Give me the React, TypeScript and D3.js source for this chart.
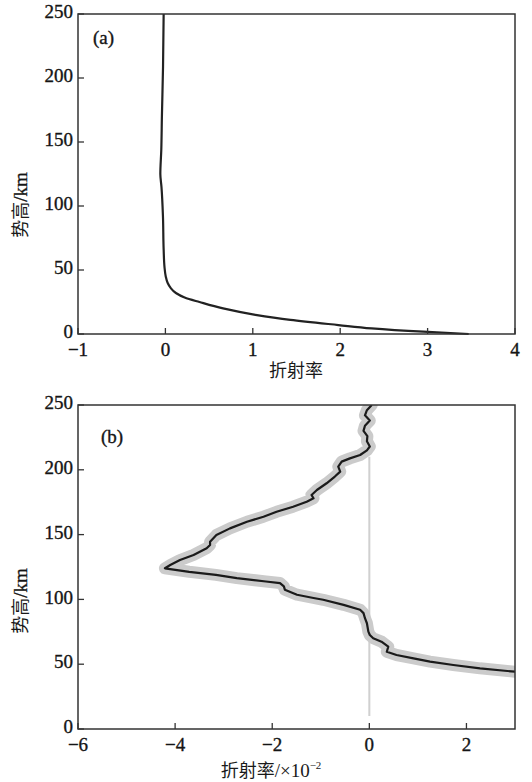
import React from 'react';
import {scaleLinear, line, curveMonotoneY, curveLinear} from 'd3';

// panel (a): refractivity over the full height range
const aHeight = [250, 209, 170, 144, 125, 115, 92, 66, 52, 45, 40, 36, 32, 28.5, 25, 20, 15, 11, 7, 4.4, 1.8, 0];
const aValue = [-0.02, -0.027, -0.04, -0.047, -0.058, -0.045, -0.028, -0.02, -0.01, 0.004, 0.025, 0.06, 0.12, 0.22, 0.39, 0.66, 1.03, 1.43, 1.98, 2.36, 2.95, 3.47];

// panel (b): zoomed view, values in units of 1e-2
const bHeight = [250, 246, 242, 238, 234, 230, 226, 222, 218, 215, 211.4, 208.8, 206.3, 202.5, 198.6, 194.8, 189.6, 184.4, 180.6, 178, 175.4, 171.5, 167.6, 163.8, 159.9, 154.8, 149.7, 144.5, 142, 139.5, 134.3, 130.4, 126.5, 124, 121.3, 118.9, 116.4, 113.8, 112.6, 110, 107.5, 103.6, 101.1, 99.7, 95.8, 92, 89.4, 85.5, 81.6, 75.1, 72.5, 70, 67.4, 63.5, 59.6, 57.1, 54.5, 52, 49.4, 46.8, 44.2, 42];
const bValue = [0.05, -0.05, -0.09, 0.01, -0.09, -0.12, -0.04, -0.05, 0.01, -0.05, -0.19, -0.40, -0.57, -0.64, -0.60, -0.71, -0.88, -1.08, -1.19, -1.15, -1.29, -1.57, -1.91, -2.18, -2.52, -2.87, -3.15, -3.28, -3.28, -3.35, -3.62, -3.90, -4.10, -4.21, -3.71, -3.16, -2.73, -2.13, -1.84, -1.76, -1.74, -1.49, -1.15, -0.95, -0.53, -0.19, -0.12, -0.09, -0.05, -0.02, 0.01, 0.08, 0.25, 0.39, 0.36, 0.56, 0.91, 1.25, 1.73, 2.28, 3.0, 3.8];

// zero reference line in (b)
const bZeroLine = [10, 210];

const yTicks = [0, 50, 100, 150, 200, 250];
const aXTicks = [-1, 0, 1, 2, 3, 4];
const bXTicks = [-6, -4, -2, 0, 2];

const width = 532;
const height = 782;
const left = 78;
const right = 515;

const serif = '"Liberation Serif", "Times New Roman", serif';
const cjk = '"Noto Sans CJK SC", sans-serif';
const fmt = (v: number) => (v < 0 ? `\u2212${Math.abs(v)}` : `${v}`);

// regular serif with a faint outline, to get the heavier look of the scan
const numStyle = {fontFamily: serif, fontSize: 19, fill: '#151515', stroke: '#151515', strokeWidth: 0.35};

type AxisProps = {
  x: any;
  y: any;
  xTicks: number[];
  top: number;
  bottom: number;
};

function Frame({x, y, xTicks, top, bottom}: AxisProps) {
  return (
    <g>
      <rect x={left} y={top} width={right - left} height={bottom - top} fill="none" stroke="#333" strokeWidth={1.5} />
      {xTicks.map((t) => (
        <g key={t} transform={`translate(${x(t)}, 0)`}>
          <line y1={bottom} y2={bottom - 6} stroke="#333" strokeWidth={1.3} />
          <text y={bottom + 22} textAnchor="middle" style={numStyle}>{fmt(t)}</text>
        </g>
      ))}
      {yTicks.map((t) => (
        <g key={t} transform={`translate(0, ${y(t)})`}>
          <line x1={left} x2={left + 6} stroke="#333" strokeWidth={1.3} />
          <text x={left - 5} dy="0.22em" textAnchor="end" style={numStyle}>{t}</text>
        </g>
      ))}
    </g>
  );
}

export default function App() {
  const aX = scaleLinear().domain([-1, 4]).range([left, right]);
  const aY = scaleLinear().domain([0, 250]).range([334, 14]);
  const bX = scaleLinear().domain([-6, 3]).range([left, right]);
  const bY = scaleLinear().domain([0, 250]).range([729, 405]);

  const aLine = line<number>()
    .x((d, i) => aX(aValue[i]))
    .y((d) => aY(d))
    .curve(curveMonotoneY);
  const bLine = line<number>()
    .x((d, i) => bX(bValue[i]))
    .y((d) => bY(d))
    .curve(curveLinear);

  return (
    <svg width={width} height={height} style={{position: 'absolute', left: 0, top: 0, background: '#fff'}}>
      <defs>
        <clipPath id="clipB">
          <rect x={left} y={405} width={right - left} height={729 - 405} />
        </clipPath>
      </defs>

      {/* panel (a) */}
      <path d={aLine(aHeight) || ''} fill="none" stroke="#222" strokeWidth={2.2} />
      <Frame x={aX} y={aY} xTicks={aXTicks} top={14} bottom={334} />
      <text x={93} y={44} style={numStyle}>(a)</text>
      <text x={296} y={377} textAnchor="middle" fontFamily={cjk} fontSize={18} fill="#1a1a1a">折射率</text>
      <text transform="translate(27, 205) rotate(-90)" textAnchor="middle" fontFamily={cjk} fontSize={18} fill="#1a1a1a">
        势高<tspan style={numStyle}>/km</tspan>
      </text>

      {/* panel (b) */}
      <line x1={bX(0)} x2={bX(0)} y1={bY(bZeroLine[0])} y2={bY(bZeroLine[1])} stroke="#d0d0d0" strokeWidth={2} />
      <g clipPath="url(#clipB)">
        <path d={bLine(bHeight) || ''} fill="none" stroke="#cbcbcb" strokeWidth={12} strokeLinejoin="round" strokeLinecap="round" />
        <path d={bLine(bHeight) || ''} fill="none" stroke="#1a1a1a" strokeWidth={2.2} strokeLinejoin="round" />
      </g>
      <Frame x={bX} y={bY} xTicks={bXTicks} top={405} bottom={729} />
      <text x={101} y={443} style={numStyle}>(b)</text>
      <text x={271} y={777} textAnchor="middle" fontFamily={cjk} fontSize={18} fill="#1a1a1a">
        折射率<tspan fontFamily={serif} fontSize={19}>/×10</tspan><tspan fontFamily={serif} fontSize={11} dy={-8}>−2</tspan>
      </text>
      <text transform="translate(27, 601) rotate(-90)" textAnchor="middle" fontFamily={cjk} fontSize={18} fill="#1a1a1a">
        势高<tspan style={numStyle}>/km</tspan>
      </text>
    </svg>
  );
}
